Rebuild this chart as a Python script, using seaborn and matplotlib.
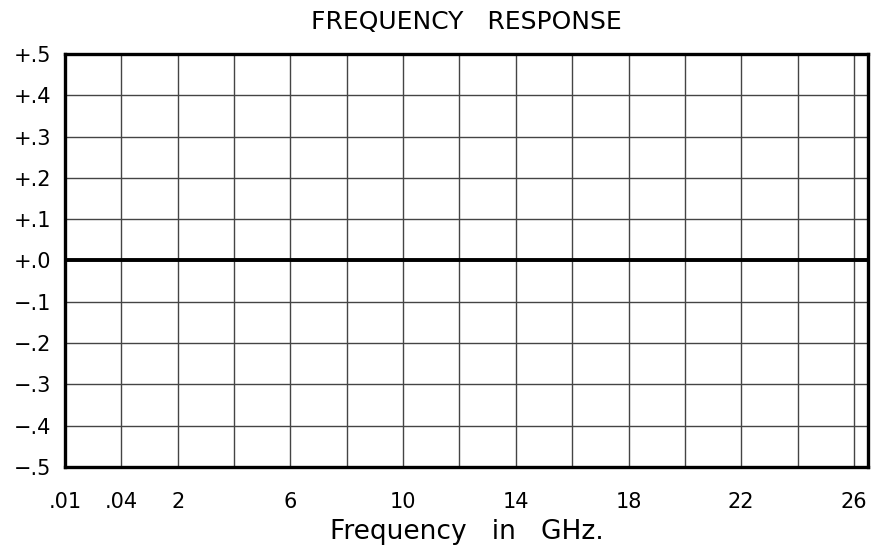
import numpy as np
import pandas as pd
import matplotlib
matplotlib.use("Agg")
import matplotlib.pyplot as plt
import seaborn as sns

# frequency points (GHz) and the flat response trace (dB)
freqs = [0.01, 0.04, 2, 4, 6, 8, 10, 12, 14, 16, 18, 20, 22, 24, 26, 26.5]
response = [0.0] * len(freqs)

major_ticks = [0.01, 0.04, 2, 6, 10, 14, 18, 22, 26]
major_labels = [".01", ".04", "2", "6", "10", "14", "18", "22", "26"]
minor_ticks = [4, 8, 12, 16, 20, 24]
y_ticks = [0.5, 0.4, 0.3, 0.2, 0.1, 0.0, -0.1, -0.2, -0.3, -0.4, -0.5]
y_labels = ["+.5", "+.4", "+.3", "+.2", "+.1", "+.0",
            "\u2212.1", "\u2212.2", "\u2212.3", "\u2212.4", "\u2212.5"]

# piecewise scale: .01 and .04 get one division each, then 2 GHz per division
f_knots = [0.01, 0.04, 2, 26.5]
p_knots = [0, 1, 2, 14.25]


def fwd(f):
    return np.interp(f, f_knots, p_knots)


def inv(p):
    return np.interp(p, p_knots, f_knots)


sns.set_style("white")
plt.rcParams["font.family"] = ["DejaVu Sans"]
plt.rcParams["text.color"] = "black"
plt.rcParams["axes.labelcolor"] = "black"

df = pd.DataFrame({"freq": freqs, "resp": response})

fig = plt.figure(figsize=(8.86, 5.55), dpi=100)
ax = fig.add_axes([0.0734, 0.1586, 0.9063, 0.7441])
ax.set_xscale("function", functions=(fwd, inv))

sns.lineplot(data=df, x="freq", y="resp", ax=ax, color="black", linewidth=2.8, zorder=3)

ax.set_xlim(0.01, 26.5)
ax.set_ylim(-0.5, 0.5)
ax.set_xticks(major_ticks)
ax.set_xticklabels(major_labels)
ax.set_xticks(minor_ticks, minor=True)
ax.set_yticks(y_ticks)
ax.set_yticklabels(y_labels)
ax.grid(True, which="both", color="#444444", linewidth=1.0)
ax.tick_params(which="both", length=0, labelsize=15, colors="black")
ax.tick_params(axis="x", pad=18)
ax.tick_params(axis="y", pad=10)

for sp in ax.spines.values():
    sp.set_visible(True)
    sp.set_color("black")
    sp.set_linewidth(2.4)

ax.set_xlabel("Frequency   in   GHz.", fontsize=19, labelpad=5)
ax.set_ylabel("")
ax.set_title("FREQUENCY   RESPONSE", fontsize=18, pad=18)

fig.savefig("out.png", dpi=100)
